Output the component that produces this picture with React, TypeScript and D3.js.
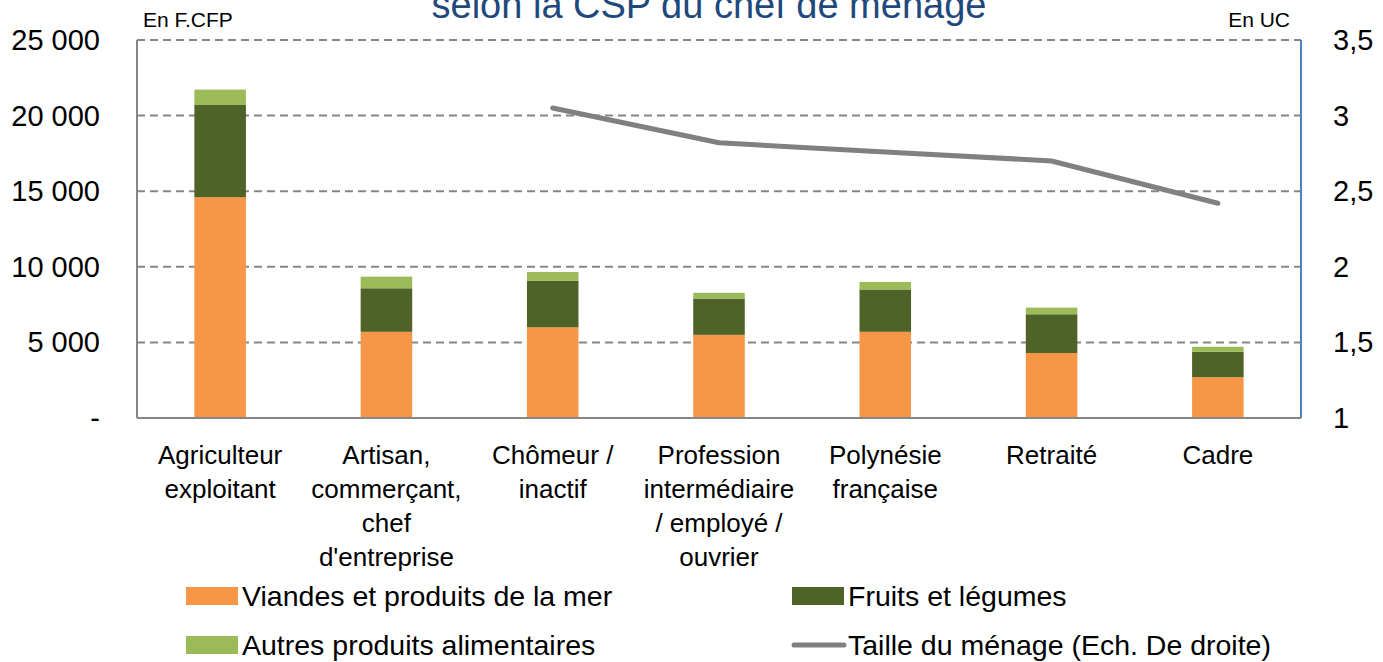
import { useEffect, useRef } from "react";
import * as d3 from "d3";

const categories = [
  ["Agriculteur", "exploitant"],
  ["Artisan,", "commerçant,", "chef", "d'entreprise"],
  ["Chômeur /", "inactif"],
  ["Profession", "intermédiaire", "/ employé /", "ouvrier"],
  ["Polynésie", "française"],
  ["Retraité"],
  ["Cadre"],
];
const viandes = [14600, 5700, 6000, 5500, 5700, 4300, 2700];
const fruits = [6100, 2880, 3080, 2400, 2800, 2560, 1680];
const autres = [1020, 770, 580, 380, 500, 440, 330];
// household size (right axis), no value for the first two groups
const taille: (number | null)[] = [null, null, 3.05, 2.82, 2.76, 2.7, 2.42];

const leftTicks = [0, 5000, 10000, 15000, 20000, 25000];
const rightTicks = [1, 1.5, 2, 2.5, 3, 3.5];

const seriesNames = ["Viandes et produits de la mer", "Fruits et légumes", "Autres produits alimentaires"];
const lineName = "Taille du ménage (Ech. De droite)";
const colors = ["#F79646", "#4F6228", "#9BBB59"];

const FONT = "'Liberation Sans', Arial, sans-serif";

const App = () => {
  const svgRef = useRef<SVGSVGElement>(null);

  useEffect(() => {
    document.body.style.margin = "0";
    const svg = d3.select(svgRef.current);
    svg.selectAll("*").remove();

    const left = 137, right = 1301, top = 40, bottom = 418;

    const x = d3.scaleBand<number>()
      .domain(d3.range(categories.length))
      .range([left, right])
      .paddingInner(0.69)
      .paddingOuter(0.345);
    const y = d3.scaleLinear().domain([0, 25000]).range([bottom, top]);
    const y2 = d3.scaleLinear().domain([1, 3.5]).range([bottom, top]);

    // gridlines
    svg.append("g")
      .selectAll("line")
      .data(leftTicks.filter(d => d > 0))
      .join("line")
      .attr("x1", left).attr("x2", right)
      .attr("y1", d => y(d)).attr("y2", d => y(d))
      .attr("stroke", "#868686")
      .attr("stroke-width", 2)
      .attr("stroke-dasharray", "8,5");

    // stacked bars
    const rows = categories.map((_, i) => ({ i, v: viandes[i], f: fruits[i], a: autres[i] }));
    const stack = d3.stack<any>().keys(["v", "f", "a"])(rows);
    svg.append("g")
      .selectAll("g")
      .data(stack)
      .join("g")
      .attr("fill", (_, k) => colors[k])
      .selectAll("rect")
      .data(d => d)
      .join("rect")
      .attr("x", d => x(d.data.i)!)
      .attr("width", x.bandwidth())
      .attr("y", d => y(d[1]))
      .attr("height", d => y(d[0]) - y(d[1]));

    // axes lines
    svg.append("line")
      .attr("x1", left).attr("x2", left).attr("y1", top).attr("y2", bottom)
      .attr("stroke", "#868686").attr("stroke-width", 2);
    svg.append("line")
      .attr("x1", right).attr("x2", right).attr("y1", top).attr("y2", bottom)
      .attr("stroke", "#4F81BD").attr("stroke-width", 2);
    svg.append("line")
      .attr("x1", left).attr("x2", right).attr("y1", bottom).attr("y2", bottom)
      .attr("stroke", "#868686").attr("stroke-width", 2);

    // line series
    const line = d3.line<number | null>()
      .defined(d => d != null)
      .x((_, i) => x(i)! + x.bandwidth() / 2)
      .y(d => y2(d as number));
    svg.append("path")
      .datum(taille)
      .attr("d", line)
      .attr("fill", "none")
      .attr("stroke", "#808080")
      .attr("stroke-width", 5)
      .attr("stroke-linecap", "round")
      .attr("stroke-linejoin", "round");

    // left tick labels
    const fmt = (d: number) => d === 0 ? "-" : d3.format(",")(d).replace(",", " ");
    svg.append("g")
      .selectAll("text")
      .data(leftTicks)
      .join("text")
      .attr("x", 100)
      .attr("y", d => y(d) + 10)
      .attr("text-anchor", "end")
      .attr("font-size", 29)
      .text(fmt);

    // right tick labels
    svg.append("g")
      .selectAll("text")
      .data(rightTicks)
      .join("text")
      .attr("x", 1333)
      .attr("y", d => y2(d) + 10)
      .attr("font-size", 29)
      .text(d => String(d).replace(".", ","));

    // unit labels
    svg.append("text").attr("x", 143).attr("y", 27).attr("font-size", 21).text("En F.CFP");
    svg.append("text").attr("x", 1290).attr("y", 27).attr("font-size", 21)
      .attr("text-anchor", "end").text("En UC");

    // title (cut at the top, as in the source)
    svg.append("text")
      .attr("x", 709).attr("y", 18)
      .attr("text-anchor", "middle")
      .attr("font-size", 38)
      .attr("fill", "#1F497D")
      .text("selon la CSP du chef de ménage");

    // category labels
    const cat = svg.append("g")
      .selectAll("text")
      .data(categories)
      .join("text")
      .attr("text-anchor", "middle")
      .attr("font-size", 26)
      .attr("x", (_, i) => x(i)! + x.bandwidth() / 2)
      .attr("y", 464);
    cat.selectAll("tspan")
      .data(d => d)
      .join("tspan")
      .attr("x", function () { return (this.parentNode as SVGTextElement).getAttribute("x"); })
      .attr("dy", (_, j) => (j === 0 ? 0 : 34))
      .text(d => d);

    // legend
    const legend = svg.append("g").attr("font-size", 28.5);
    const items = [
      { name: seriesNames[0], color: colors[0], x: 186, y: 596, type: "rect" },
      { name: seriesNames[1], color: colors[1], x: 792, y: 596, type: "rect" },
      { name: seriesNames[2], color: colors[2], x: 186, y: 645, type: "rect" },
      { name: lineName, color: "#808080", x: 792, y: 645, type: "line" },
    ];
    items.forEach(it => {
      if (it.type === "rect") {
        legend.append("rect")
          .attr("x", it.x).attr("y", it.y - 9)
          .attr("width", 52).attr("height", 18)
          .attr("fill", it.color);
      } else {
        legend.append("line")
          .attr("x1", it.x + 2).attr("x2", it.x + 52)
          .attr("y1", it.y).attr("y2", it.y)
          .attr("stroke", it.color).attr("stroke-width", 5)
          .attr("stroke-linecap", "round");
      }
      legend.append("text")
        .attr("x", it.x + 56)
        .attr("y", it.y + 10)
        .text(it.name);
    });
  }, []);

  return (
    <div style={{ position: "absolute", left: 0, top: 0 }}>
      <svg ref={svgRef} width={1383} height={662}
        style={{ display: "block", fontFamily: FONT, background: "#fff" }} />
    </div>
  );
};

export default App;
